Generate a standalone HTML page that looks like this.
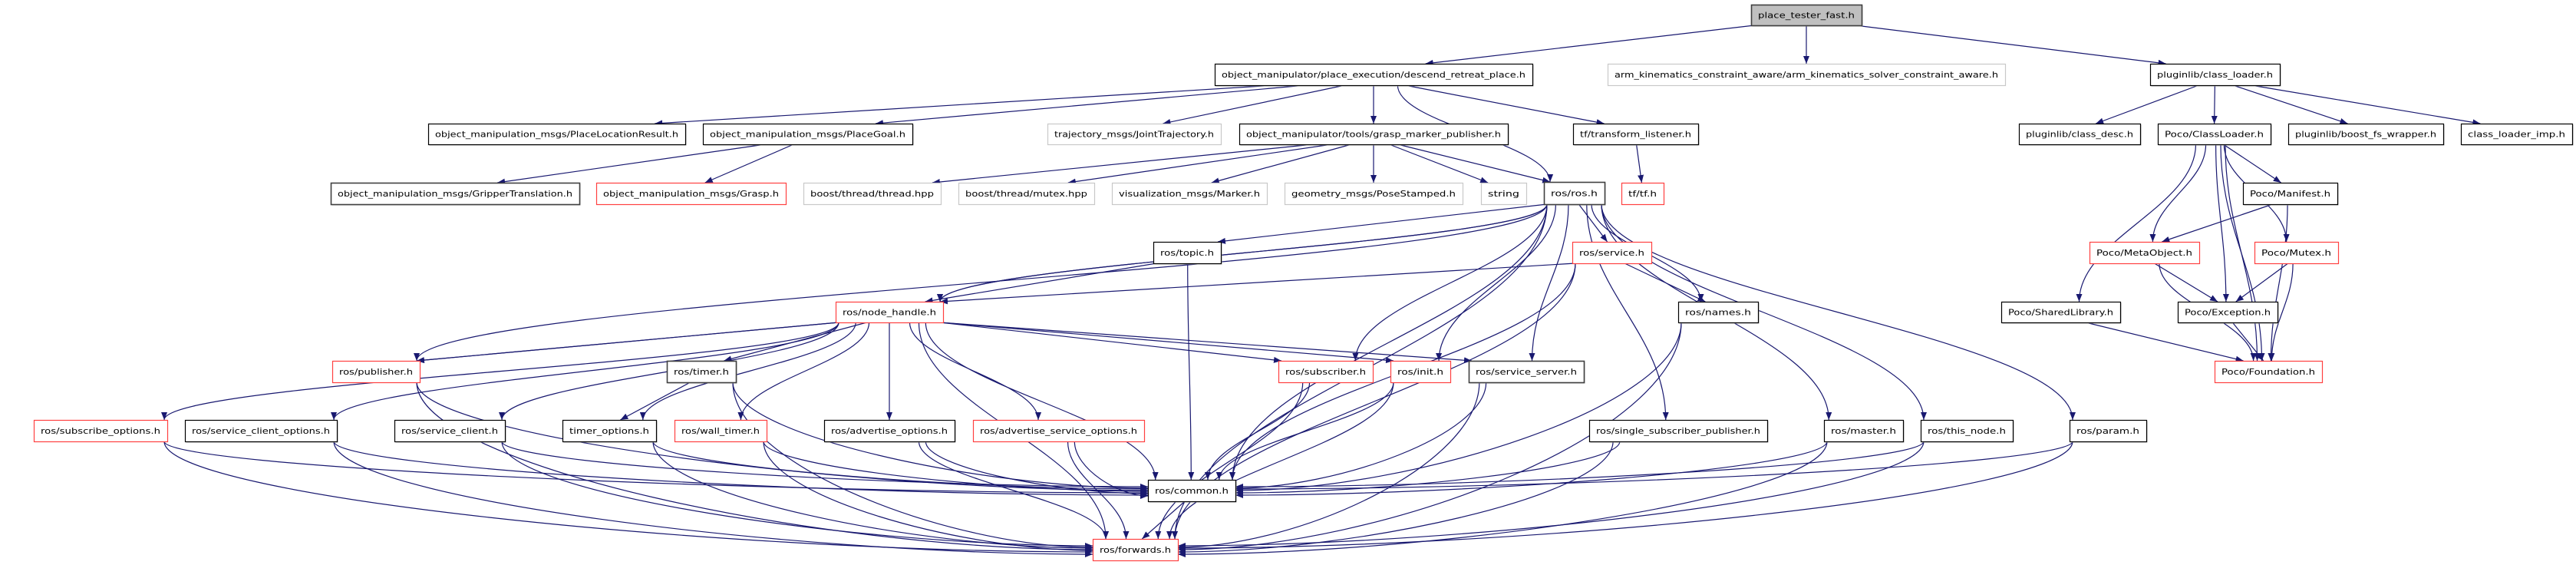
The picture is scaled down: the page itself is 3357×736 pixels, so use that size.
<!DOCTYPE html>
<html><head><meta charset="utf-8">
<style>
html,body{margin:0;padding:0;background:#fff;}
svg{display:block;}
text{font-family:"DejaVu Sans","Liberation Sans",sans-serif;font-size:11px;fill:#000;}
</style></head>
<body>
<svg id="g" width="3357" height="736" viewBox="0 0 3357 736" xmlns="http://www.w3.org/2000/svg">
<defs>
<marker id="ah" viewBox="0 0 10 8" refX="10" refY="4" markerWidth="10" markerHeight="8" markerUnits="userSpaceOnUse" orient="auto">
<path d="M0,0 L10,4 L0,8 z" fill="#191970"/>
</marker>
</defs>
<g id="edges" fill="none" stroke="#191970" stroke-width="1.2"></g>
<g id="nodes"></g>
</svg>
<script>
var N={
root:[2282,6,2426,33,'place_tester_fast.h','root'],
drp:[1583,83,1997,111,'object_manipulator/place_execution/descend_retreat_place.h','b'],
ak:[2095,83,2613,111,'arm_kinematics_constraint_aware/arm_kinematics_solver_constraint_aware.h','g'],
cl:[2802,83,2971,111,'pluginlib/class_loader.h','b'],
plr:[558,161,893,188,'object_manipulation_msgs/PlaceLocationResult.h','b'],
pg:[916,161,1189,188,'object_manipulation_msgs/PlaceGoal.h','b'],
jt:[1365,161,1591,188,'trajectory_msgs/JointTrajectory.h','g'],
gmp:[1615,161,1965,188,'object_manipulator/tools/grasp_marker_publisher.h','b'],
tl:[2050,161,2213,188,'tf/transform_listener.h','b'],
cd:[2631,161,2789,188,'pluginlib/class_desc.h','b'],
pcl:[2812,161,2959,188,'Poco/ClassLoader.h','b'],
bfs:[2982,161,3184,188,'pluginlib/boost_fs_wrapper.h','b'],
cli:[3207,161,3352,188,'class_loader_imp.h','b'],
gt:[431,238,755,266,'object_manipulation_msgs/GripperTranslation.h','d'],
gr:[777,238,1024,266,'object_manipulation_msgs/Grasp.h','r'],
bth:[1047,238,1226,266,'boost/thread/thread.hpp','g'],
bmx:[1249,238,1426,266,'boost/thread/mutex.hpp','g'],
mk:[1449,238,1651,266,'visualization_msgs/Marker.h','g'],
ps:[1674,238,1906,266,'geometry_msgs/PoseStamped.h','g'],
str:[1930,238,1989,266,'string','g'],
ros:[2012,237,2091,266,'ros/ros.h','d'],
tf:[2113,238,2168,266,'tf/tf.h','r'],
mf:[2923,238,3046,266,'Poco/Manifest.h','b'],
top:[1503,315,1591,343,'ros/topic.h','b'],
srv:[2049,315,2152,343,'ros/service.h','r'],
mo:[2723,315,2866,343,'Poco/MetaObject.h','r'],
mx:[2938,315,3047,343,'Poco/Mutex.h','r'],
nh:[1089,393,1229,420,'ros/node_handle.h','r'],
nm:[2187,393,2291,420,'ros/names.h','b'],
sl:[2608,393,2763,420,'Poco/SharedLibrary.h','b'],
ex:[2838,393,2968,420,'Poco/Exception.h','b'],
pub:[433,470,547,498,'ros/publisher.h','r'],
tm:[869,470,959,498,'ros/timer.h','d'],
sub:[1666,470,1789,498,'ros/subscriber.h','r'],
ini:[1812,470,1890,498,'ros/init.h','r'],
ss:[1914,470,2064,498,'ros/service_server.h','d'],
fd:[2886,470,3026,498,'Poco/Foundation.h','r'],
so:[44,547,218,575,'ros/subscribe_options.h','r'],
sco:[241,547,439,575,'ros/service_client_options.h','b'],
sc:[514,547,658,575,'ros/service_client.h','b'],
to:[733,547,855,575,'timer_options.h','b'],
wt:[879,547,999,575,'ros/wall_timer.h','r'],
ao:[1074,547,1244,575,'ros/advertise_options.h','b'],
aso:[1268,547,1491,575,'ros/advertise_service_options.h','r'],
ssp:[2071,547,2303,575,'ros/single_subscriber_publisher.h','b'],
ms:[2377,547,2480,575,'ros/master.h','b'],
tn:[2503,547,2623,575,'ros/this_node.h','b'],
pm:[2697,547,2797,575,'ros/param.h','b'],
cm:[1496,625,1610,653,'ros/common.h','b'],
fw:[1424,702,1535,730,'ros/forwards.h','r']
};
var E=[
['root','drp'],['root','ak'],['root','cl'],
['drp','plr'],['drp','pg'],['drp','jt'],['drp','gmp'],['drp','ros'],['drp','tl'],
['pg','gt'],['pg','gr'],
['gmp','bth'],['gmp','bmx'],['gmp','mk'],['gmp','ps'],['gmp','str'],['gmp','ros'],
['tl','tf'],
['cl','cd'],['cl','pcl'],['cl','bfs'],['cl','cli'],
['pcl','mf'],['pcl','mo'],['pcl','mx'],['pcl','ex'],['pcl','sl'],['pcl','fd'],['pcl','fd'],
['mf','mo'],['mf','fd'],['mo','ex'],['mo','fd'],['mx','ex'],['mx','fd'],['ex','fd'],['sl','fd'],
['ros','top'],['ros','srv'],['ros','nh'],['ros','nh'],['ros','pub'],['ros','sub'],['ros','ini'],['ros','ss'],['ros','nm'],['ros','ssp'],['ros','ms'],['ros','tn'],['ros','pm'],['ros','cm'],['ros','fw'],
['top','nh'],['top','cm'],
['srv','nh'],['srv','nm'],['srv','cm'],['srv','fw'],
['nh','pub'],['nh','pub'],['nh','so'],['nh','sco'],['nh','sc'],['nh','tm'],['nh','to'],['nh','wt'],['nh','ao'],['nh','aso'],['nh','sub'],['nh','ini'],['nh','ss'],['nh','cm'],['nh','fw'],
['tm','to'],['tm','cm'],['tm','fw'],
['pub','cm'],['pub','fw'],
['so','cm'],['so','fw'],['sco','cm'],['sco','fw'],['sc','cm'],['sc','fw'],['to','cm'],['to','fw'],['wt','cm'],['wt','fw'],['ao','cm'],['ao','fw'],['aso','cm'],['aso','fw'],
['sub','cm'],['sub','fw'],['ini','cm'],['ini','fw'],['ss','cm'],['ss','fw'],
['nm','cm'],['nm','fw'],['ssp','cm'],['ssp','fw'],['ms','cm'],['ms','fw'],['tn','cm'],['tn','fw'],['pm','cm'],['pm','fw'],
['cm','fw']
];
var ns='http://www.w3.org/2000/svg';
var gn=document.getElementById('nodes'),ge=document.getElementById('edges');
function el(t,a,p){var e=document.createElementNS(ns,t);for(var k in a)e.setAttribute(k,a[k]);p.appendChild(e);return e;}
for(var k in N){var n=N[k],w=n[2]-n[0],h=n[3]-n[1];
 var st=n[5]=='r'?'#ff4040':n[5]=='g'?'#c8c8c8':n[5]=='d'?'#404040':'#000';
 var fill=n[5]=='root'?'#bfbfbf':'#fff';
 if(n[5]!='g'&&n[5]!='r') el('rect',{x:n[0]+1.5,y:n[1]+1.5,width:w,height:h,fill:'#b0b0b0'},gn);
 el('rect',{x:n[0]+0.5,y:n[1]+0.5,width:w,height:h,fill:fill,stroke:n[5]=='root'?'#404040':st,'stroke-width':n[5]=='root'||n[5]=='d'?1.6:1.2},gn);
 var t=el('text',{x:n[0]+w/2,y:n[1]+h/2+4,'text-anchor':'middle',textLength:Math.max(10,w-18),lengthAdjust:'spacingAndGlyphs'},gn);
 t.textContent=n[4];}
var cnt={},sideCnt={};
function cl(v,a,b){return Math.max(a,Math.min(b,v));}
E.forEach(function(e){
 var s=N[e[0]],t=N[e[1]];var key=e[0]+e[1];cnt[key]=(cnt[key]||0)+1;var off=(cnt[key]-1)*6;
 var scx=(s[0]+s[2])/2,tcx=(t[0]+t[2])/2;
 var sx=cl(scx+(tcx-scx)*0.12+off,s[0]+4,s[2]-4),sy=s[3];
 var dy=t[1]-sy,d;
 var dxo=scx<t[0]?t[0]-scx:(scx>t[2]?scx-t[2]:0);
 if((e[1]=='cm'||e[1]=='fw')&&dxo>2.2*Math.max(dy,20)){
  var left=scx<t[0];var ex=left?t[0]:t[2];
  var sk=e[1]+(left?'L':'R');sideCnt[sk]=(sideCnt[sk]||0)+1;
  var ey=t[1]+8+((sideCnt[sk]*3)%14);
  d='M'+sx+','+sy+' C'+sx+','+(sy+(ey-sy)*0.5)+' '+(ex+(left?-1:1)*Math.abs(ex-sx)*0.4)+','+ey+' '+ex+','+ey;
 } else {
  var tx=cl(tcx+(scx-tcx)*0.12-off,t[0]+4,t[2]-4),ty=t[1];
  if(dy<90){d='M'+sx+','+sy+' L'+tx+','+ty;}
  else{d='M'+sx+','+sy+' C'+sx+','+(sy+dy*0.4)+' '+tx+','+(ty-dy*0.4)+' '+tx+','+ty;}
 }
 el('path',{d:d,'marker-end':'url(#ah)'},ge);
});
</script>
</body></html>
